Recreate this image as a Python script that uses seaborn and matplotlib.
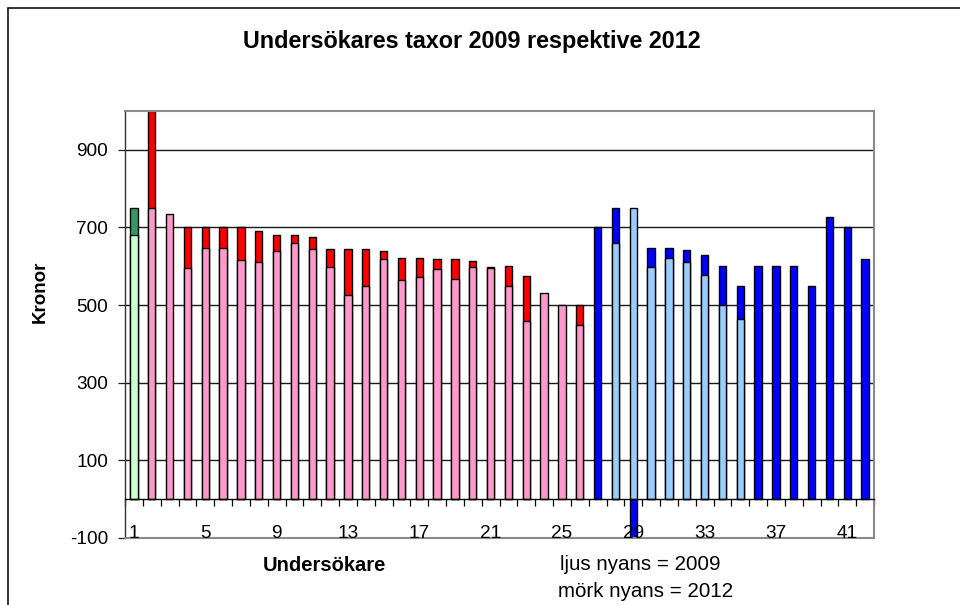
import numpy as np
import pandas as pd
import matplotlib
matplotlib.use("Agg")
import matplotlib.pyplot as plt
from matplotlib.lines import Line2D
import seaborn as sns

# Undersökare 1..42, taxor i kronor (None = uppgift saknas)
undersokare = [str(i) for i in range(1, 43)]
taxa_2009 = [680, 750, 735, 595, 647, 647, 615, 610, 640, 660,
             645, 598, 525, 550, 620, 565, 573, 593, 568, 597,
             595, 550, 460, 530, 500, 448, None, 660, 750, 598,
             622, 610, 578, 500, 465, None, None, None, None, None,
             None, None]
taxa_2012 = [750, 1000, None, 700, 700, 700, 700, 690, 680, 680,
             675, 645, 645, 645, 640, 622, 622, 618, 618, 614,
             598, 600, 575, None, None, 500, 700, 750, -100, 647,
             647, 643, 630, 600, 550, 600, 600, 600, 550, 728,
             700, 620]
grupp = ["grön"] + ["rosa"] * 25 + ["blå"] * 16
grupper = ["grön", "rosa", "blå"]
ljus = {"grön": "#CCFFCC", "rosa": "#FF99CC", "blå": "#99CCFF"}
mork = {"grön": "#339966", "rosa": "#FF0000", "blå": "#0000FF"}
y_ticks = [-100, 100, 300, 500, 700, 900]
x_etiketter = undersokare[::4]

sns.set_style("white")
plt.rcParams["font.family"] = ["Liberation Sans", "DejaVu Sans"]
plt.rcParams["axes.unicode_minus"] = False
for key in ("text.color", "axes.labelcolor", "xtick.color", "ytick.color"):
    plt.rcParams[key] = "black"

df = pd.DataFrame({"nr": undersokare, "grupp": grupp,
                   "t2009": taxa_2009, "t2012": taxa_2012})

W, H = 960, 605
fig = plt.figure(figsize=(W / 100, H / 100), dpi=100)
fx = lambda x: x / W
fy = lambda y: 1 - y / H

# plot area in pixel terms: left 125, top 111, right 874, bottom 538
ax = fig.add_axes([fx(125), fy(538), (874 - 125) / W, (538 - 111) / H])
ax.set_axisbelow(True)

common = dict(x="nr", hue="grupp", order=undersokare, hue_order=grupper,
              dodge=False, width=0.42, saturation=1, edgecolor="black",
              linewidth=1.0, errorbar=None, legend=False, ax=ax)
# 2012 (mörk nyans) behind, 2009 (ljus nyans) in front
sns.barplot(data=df.dropna(subset=["t2012"]), y="t2012", palette=mork, **common)
sns.barplot(data=df.dropna(subset=["t2009"]), y="t2009", palette=ljus, **common)

ax.set_xlim(-0.5, len(undersokare) - 0.5)
ax.set_ylim(-100, 1000)
ax.set_xlabel("")
ax.set_ylabel("")

# horizontal grid lines
for v in y_ticks[1:]:
    ax.axhline(v, color="#1a1a1a", lw=1.0, zorder=0.5)

ax.set_yticks(y_ticks)
ax.tick_params(axis="y", direction="out", length=5, width=0.9, color="#222222",
               labelsize=13.7, labelcolor="black", pad=7, left=True)

# category axis crosses at 0, tick marks between categories
ax.spines["bottom"].set_position(("data", 0))
ax.spines["bottom"].set_color("black")
ax.spines["bottom"].set_linewidth(1.0)
ax.set_xticks(np.arange(-0.5, len(undersokare), 1))
ax.tick_params(axis="x", direction="out", length=5, width=0.9, color="black",
               labelbottom=False, bottom=True)
for lab in x_etiketter:
    ax.text(undersokare.index(lab), -99, lab, ha="center", va="baseline",
            fontsize=13.7, color="black", zorder=6)

ax.spines["left"].set_color("#333333")
ax.spines["left"].set_linewidth(1.0)
for s in ("top", "right"):
    ax.spines[s].set_color("#8a8a8a")
    ax.spines[s].set_linewidth(1.5)
ax.axhline(-100, color="#8a8a8a", lw=1.5, zorder=5, clip_on=False)

# chart frame
fig.add_artist(Line2D([fx(8), fx(8)], [fy(8), 0], color="black", lw=1.1))
fig.add_artist(Line2D([fx(8), 1], [fy(8), fy(8)], color="black", lw=1.1))

fig.text(fx(472), fy(48), "Undersökares taxor 2009 respektive 2012",
         ha="center", va="baseline", fontsize=16.8, weight="bold", color="black")
fig.text(fx(40), fy(292), "Kronor", rotation=90, ha="center", va="center",
         fontsize=13.5, weight="bold", color="black")
fig.text(fx(324), fy(571), "Undersökare", ha="center", va="baseline",
         fontsize=14.5, weight="bold", color="black")
fig.text(fx(560), fy(570), "ljus nyans = 2009", ha="left", va="baseline",
         fontsize=14.8, color="black")
fig.text(fx(558), fy(597), "mörk nyans = 2012", ha="left", va="baseline",
         fontsize=14.8, color="black")

fig.savefig("out.png", dpi=100)
